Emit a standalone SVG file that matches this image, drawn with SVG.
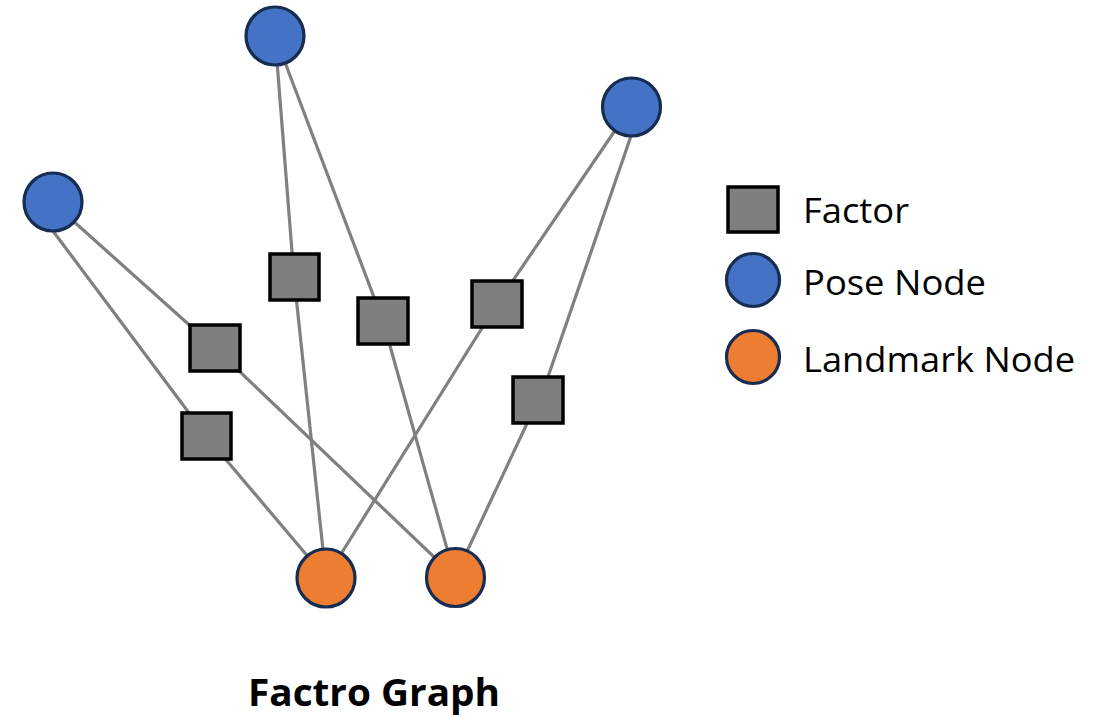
<svg xmlns="http://www.w3.org/2000/svg" width="1102" height="718" viewBox="0 0 1102 718">
  <style>
    .edge { stroke: #808080; stroke-width: 3.2; fill: none; }
    .factor { fill: #7f7f7f; stroke: #000000; stroke-width: 3.5; }
    .pose { fill: #4472c4; stroke: #172c51; stroke-width: 3.2; }
    .landmark { fill: #ed7d31; stroke: #172c51; stroke-width: 3.2; }
    .label { font-family: "Open Sans", "Liberation Sans", sans-serif; font-size: 35px; fill: #000000; }
    .title { font-family: "Open Sans", "Liberation Sans", sans-serif; font-size: 38px; font-weight: bold; fill: #000000; }
  </style>

  <rect width="1102" height="718" fill="#ffffff"/>

  <!-- connectors: pose -> factor -> landmark -->
  <g id="connectors">
    <line class="edge" x1="52" y1="202" x2="215" y2="348"/>
    <line class="edge" x1="215" y1="348" x2="455" y2="577"/>
    <line class="edge" x1="53" y1="231" x2="207" y2="437"/>
    <line class="edge" x1="206" y1="436" x2="326" y2="578"/>
    <line class="edge" x1="275" y1="36" x2="294" y2="277"/>
    <line class="edge" x1="294" y1="277" x2="326" y2="578"/>
    <line class="edge" x1="275" y1="36" x2="383" y2="321"/>
    <line class="edge" x1="383" y1="321" x2="455" y2="577"/>
    <line class="edge" x1="631" y1="107" x2="497" y2="304"/>
    <line class="edge" x1="497" y1="304" x2="326" y2="578"/>
    <line class="edge" x1="631" y1="136" x2="540" y2="400"/>
    <line class="edge" x1="538" y1="400" x2="455" y2="577"/>
  </g>

  <!-- factors -->
  <g id="factor-a"><rect class="factor" x="270" y="254" width="49" height="46"/></g>
  <g id="factor-b"><rect class="factor" x="190" y="325" width="50" height="46"/></g>
  <g id="factor-c"><rect class="factor" x="358" y="298" width="50" height="46"/></g>
  <g id="factor-d"><rect class="factor" x="472" y="281" width="50" height="46"/></g>
  <g id="factor-e"><rect class="factor" x="513" y="377" width="50" height="46"/></g>
  <g id="factor-f"><rect class="factor" x="182" y="413" width="49" height="46"/></g>

  <!-- pose nodes -->
  <g id="pose-1"><circle class="pose" cx="53" cy="202" r="29"/></g>
  <g id="pose-2"><circle class="pose" cx="275" cy="36" r="29"/></g>
  <g id="pose-3"><circle class="pose" cx="631.5" cy="107" r="29"/></g>

  <!-- landmark nodes -->
  <g id="landmark-1"><circle class="landmark" cx="326" cy="578" r="29"/></g>
  <g id="landmark-2"><circle class="landmark" cx="455.5" cy="577.5" r="29"/></g>

  <!-- legend -->
  <g id="legend">
    <rect class="factor" x="728" y="187" width="50" height="45"/>
    <text class="label" x="803" y="223" textLength="106" lengthAdjust="spacingAndGlyphs">Factor</text>
    <circle class="pose" cx="753" cy="280" r="26.5"/>
    <text class="label" x="803" y="295" textLength="183" lengthAdjust="spacingAndGlyphs">Pose Node</text>
    <circle class="landmark" cx="753" cy="357" r="26.5"/>
    <text class="label" x="803" y="372" textLength="272" lengthAdjust="spacingAndGlyphs">Landmark Node</text>
  </g>

  <text id="title" class="title" x="248" y="706" textLength="252" lengthAdjust="spacingAndGlyphs">Factro Graph</text>
</svg>
